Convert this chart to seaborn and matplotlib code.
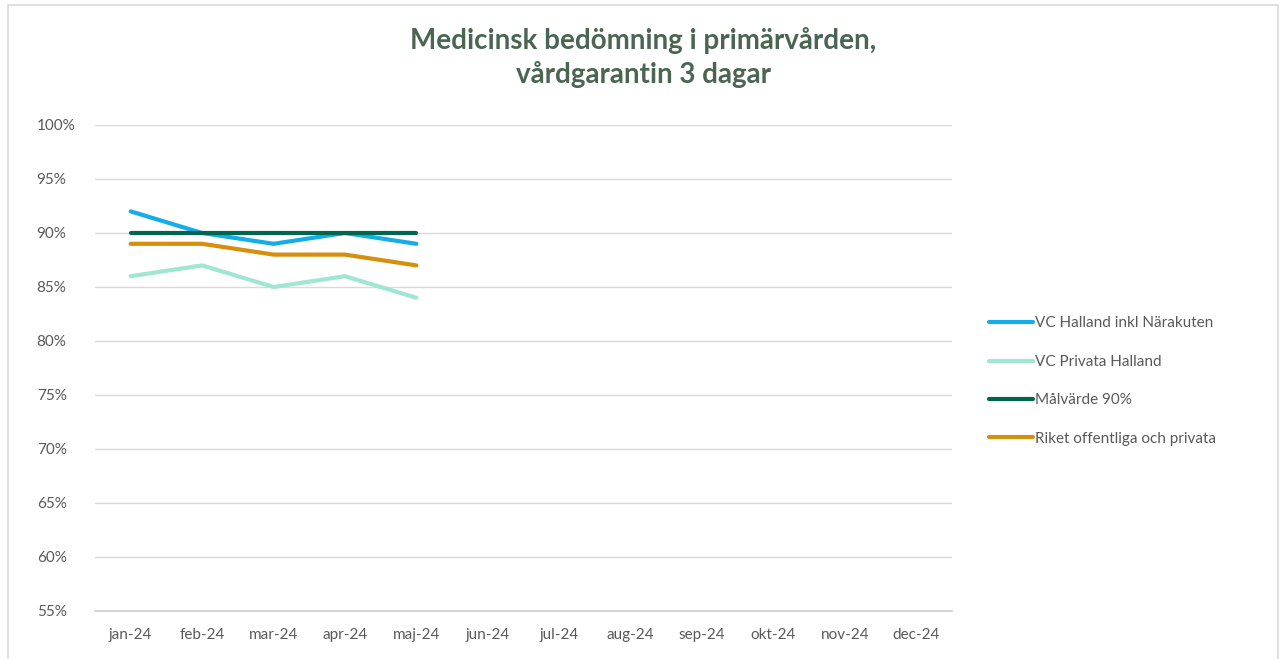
import pandas as pd
import seaborn as sns
import matplotlib.pyplot as plt
from matplotlib.patches import Rectangle
from matplotlib.ticker import FixedLocator

# Data
months = ['jan-24', 'feb-24', 'mar-24', 'apr-24', 'maj-24', 'jun-24',
          'jul-24', 'aug-24', 'sep-24', 'okt-24', 'nov-24', 'dec-24']
vc_halland = [92, 90, 89, 90, 89]
vc_privata = [86, 87, 85, 86, 84]
malvarde = [90, 90, 90, 90, 90]
riket = [89, 89, 88, 88, 87]
y_ticks = [55, 60, 65, 70, 75, 80, 85, 90, 95, 100]

series_names = ['VC Halland inkl Närakuten', 'VC Privata Halland',
                'Målvärde 90%', 'Riket offentliga och privata']
colors = ['#14ADE8', '#9FE6D3', '#006650', '#D68F0C']

rows = []
for name, vals in zip(series_names, [vc_halland, vc_privata, malvarde, riket]):
    for i, v in enumerate(vals):
        rows.append({'idx': i, 'value': v, 'serie': name})
df = pd.DataFrame(rows)

sns.set_theme(style='white')
plt.rcParams['font.family'] = ['Lato', 'DejaVu Sans']

fig = plt.figure(figsize=(12.86, 6.59), dpi=100)
ax = fig.add_axes([95 / 1286, 1 - 611 / 659, (952 - 95) / 1286, (611 - 125) / 659])

sns.lineplot(data=df, x='idx', y='value', hue='serie', hue_order=series_names,
             palette=colors, linewidth=3, ax=ax, legend=True)

ax.set_xlim(-0.5, 11.5)
ax.set_ylim(55, 100)
ax.set_xticks(range(12))
ax.set_xticklabels(months, fontsize=11, color='#595959')
ax.xaxis.set_minor_locator(FixedLocator([i - 0.5 for i in range(13)]))
ax.tick_params(axis='x', which='major', length=0, pad=12)
ax.tick_params(axis='x', which='minor', length=6, color='#D0D0D0', direction='out', width=1)
ax.set_yticks(y_ticks)
ax.set_yticklabels([f'{t}%' for t in y_ticks], fontsize=11, color='#595959')
ax.tick_params(axis='y', length=0, pad=42)
for lbl in ax.get_yticklabels():
    lbl.set_horizontalalignment('left')
ax.yaxis.grid(True, color='#D9D9D9', linewidth=1)
ax.set_axisbelow(True)
for s in ['left', 'right', 'top']:
    ax.spines[s].set_visible(False)
ax.spines['bottom'].set_color('#D0D0D0')
ax.set_xlabel('')
ax.set_ylabel('')

leg = ax.legend(loc='center left', bbox_to_anchor=(1.027, 0.473), frameon=False,
                fontsize=11, handlelength=2.9, handletextpad=0.15, labelspacing=1.6)
for t in leg.get_texts():
    t.set_color('#595959')
for h in leg.get_lines():
    h.set_linewidth(3)

title_font = dict(ha='center', va='center', fontsize=20, fontweight='bold',
                  color='#4A6552', family=['Lato', 'DejaVu Sans'])
fig.text(0.5, 1 - 40 / 659, 'Medicinsk bedömning i primärvården,', **title_font)
fig.text(0.5, 1 - 75 / 659, 'vårdgarantin 3 dagar', **title_font)

fig.patches.append(Rectangle((8 / 1286, -0.01), 1 - 16 / 1286, 1 - 5 / 659 + 0.01,
                             transform=fig.transFigure, fill=False,
                             edgecolor='#D9D9D9', linewidth=1.2))

fig.savefig('out.png', dpi=100, facecolor='white')
